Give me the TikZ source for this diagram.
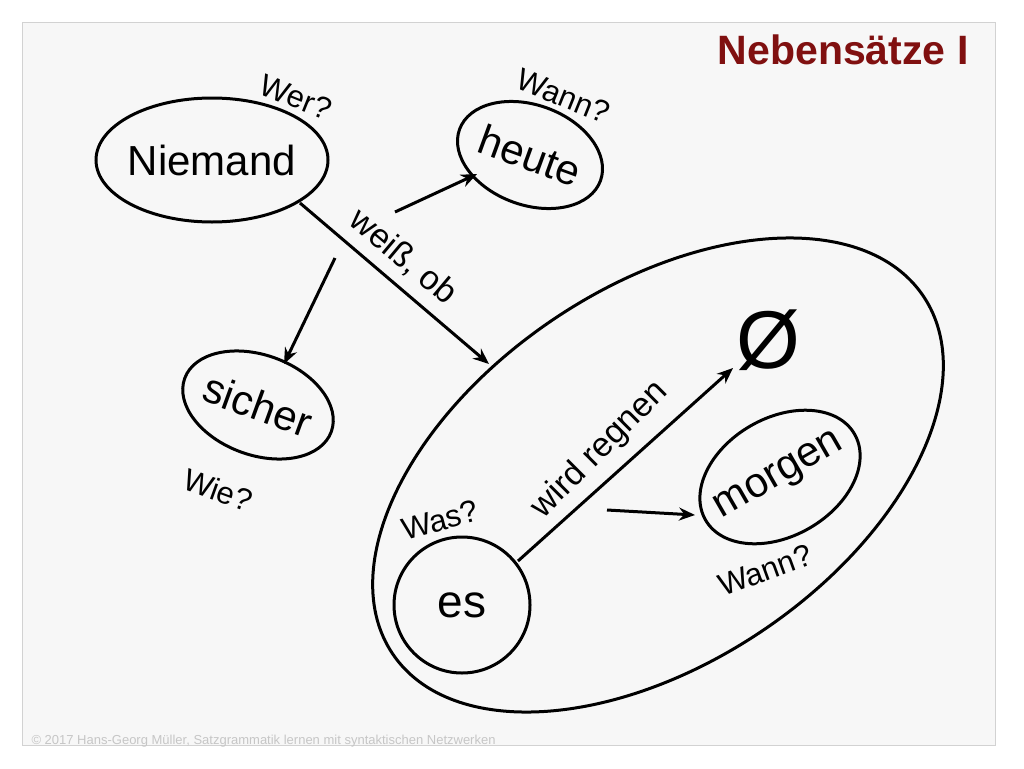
\documentclass[tikz,border=0pt]{standalone}
\usepackage{fontspec}
\setmainfont{Liberation Sans}
\usetikzlibrary{shapes.geometric,arrows.meta}
\definecolor{titlered}{RGB}{128,16,16}
\begin{document}
\begin{tikzpicture}[x=1pt,y=-1pt,
  ell/.style={ellipse,draw,line width=3pt,inner sep=0pt},
  lab/.style={font=\fontsize{31}{31}\selectfont,inner sep=0pt},
  word/.style={font=\fontsize{42}{42}\selectfont,inner sep=0pt},
  arr/.style={line width=3pt,-{Stealth[length=16pt,width=13pt]}}]
\useasboundingbox (0,0) rectangle (1024,768);
\fill[white] (0,0) rectangle (1024,768);
\node[draw=gray!35,fill=gray!6,line width=1pt,minimum width=973pt,minimum height=723pt,anchor=north west,inner sep=0pt] (frame) at (22,22) {};
\node[anchor=east,text=titlered,font=\bfseries\fontsize{41}{41}\selectfont] (title) at (972,50) {Nebensätze I};
\node[ell,minimum width=232pt,minimum height=124pt] (niemand) at (212,160) {};
\node[word] at (niemand) {Niemand};
\node[ell,rotate=-20,minimum width=150pt,minimum height=100pt] (heute) at (530,155) {};
\node[word,rotate=-20] at (heute) {heute};
\node[ell,rotate=-20,minimum width=156pt,minimum height=100pt] (sicher) at (258,405) {};
\node[word,rotate=-20] at (sicher) {sicher};
\node[ell,rotate=34,minimum width=640pt,minimum height=375pt] (big) at (658,475) {};
\node[ell,rotate=30,minimum width=172pt,minimum height=118pt] (morgen) at (780,477) {};
\node[word,rotate=30] at (morgen) {morgen};
\node[ell,circle,minimum size=136pt] (es) at (462,605) {};
\node[word,font=\fontsize{46}{46}\selectfont] at (es) {es};
\node[font=\fontsize{82}{82}\selectfont] (null) at (768,340) {Ø};
\node[lab,rotate=-22] (l1) at (296,97) {Wer?};
\node[lab,rotate=-22] (l2) at (563,96) {Wann?};
\node[lab,rotate=-40,font=\fontsize{34}{34}\selectfont] (l3) at (403,257) {weiß, ob};
\node[lab,rotate=-20] (l4) at (218,490) {Wie?};
\node[lab,rotate=15] (l5) at (440,520) {Was?};
\node[lab,rotate=45,font=\fontsize{34}{34}\selectfont] (l6) at (600,450) {wird regnen};
\node[lab,rotate=20] (l7) at (765,570) {Wann?};
\coordinate (a1) at (300,203); \coordinate (b1) at (489,364);
\coordinate (a2) at (395,212); \coordinate (b2) at (477,174);
\coordinate (a3) at (335,258); \coordinate (b3) at (284,364);
\coordinate (a4) at (518,561); \coordinate (b4) at (733,368);
\coordinate (a5) at (607,510); \coordinate (b5) at (695,515);
\draw[arr] (a1) -- (b1);
\draw[arr] (a2) -- (b2);
\draw[arr] (a3) -- (b3);
\draw[arr] (a4) -- (b4);
\draw[arr] (a5) -- (b5);
\node[anchor=base west,text=gray!45,font=\fontsize{13}{13}\selectfont] (foot) at (28,744) {© 2017 Hans-Georg Müller, Satzgrammatik lernen mit syntaktischen Netzwerken};
\end{tikzpicture}
\end{document}
